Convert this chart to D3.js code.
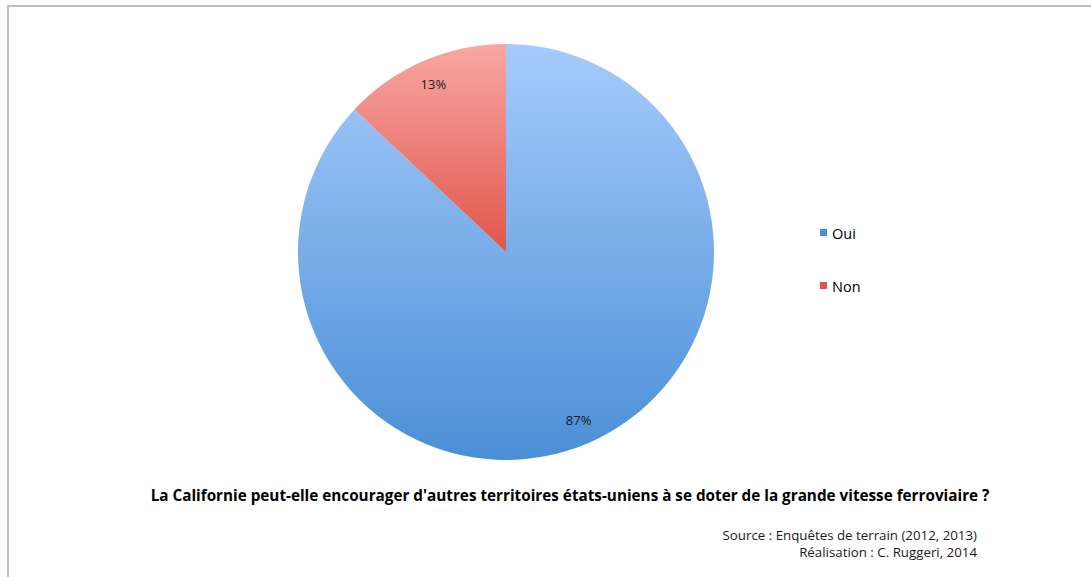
<!DOCTYPE html>
<html>
<head>
<meta charset="utf-8">
<script src="https://cdn.jsdelivr.net/npm/d3@7"></script>
<style>
  body { margin: 0; background: #fff; }
  svg { display: block; font-family: "Open Sans", sans-serif; }
</style>
</head>
<body>
<div id="chart"></div>
<script>
// data
var categories = ["Oui", "Non"];
var values = [87, 13];
var gradTop = ["#a6cbfb", "#f9a7a3"];
var gradBottom = ["#4a8fd7", "#e0564b"];

var title = "La Californie peut-elle encourager d'autres territoires états-uniens à se doter de la grande vitesse ferroviaire ?";
var sourceLines = ["Source : Enquêtes de terrain (2012, 2013)", "Réalisation : C. Ruggeri, 2014"];

var width = 1091, height = 577;
var cx = 506, cy = 252, radius = 208;

var svg = d3.select("#chart").append("svg")
  .attr("width", width)
  .attr("height", height);

// frame
svg.append("path")
  .attr("d", "M8,577 V6 H1091")
  .attr("fill", "none")
  .attr("stroke", "#bdbdbd")
  .attr("stroke-width", 2);

var defs = svg.append("defs");
categories.forEach(function(c, i){
  var g = defs.append("linearGradient")
    .attr("id", "grad" + i)
    .attr("x1", 0).attr("y1", 0).attr("x2", 0).attr("y2", 1);
  g.append("stop").attr("offset", "0%").attr("stop-color", gradTop[i]);
  g.append("stop").attr("offset", "100%").attr("stop-color", gradBottom[i]);
});

var pie = d3.pie().sort(null).value(function(d){ return d; });
var arc = d3.arc().innerRadius(0).outerRadius(radius);
var labelArc = d3.arc().innerRadius(183).outerRadius(183);

var g = svg.append("g")
  .attr("transform", "translate(" + cx + "," + cy + ")");

var arcs = pie(values);

g.selectAll(".slice")
  .data(arcs)
.enter().append("path")
  .attr("class", "slice")
  .attr("d", arc)
  .attr("fill", function(d, i){ return "url(#grad" + i + ")"; });

g.selectAll(".label")
  .data(arcs)
.enter().append("text")
  .attr("class", "label")
  .attr("transform", function(d){ return "translate(" + labelArc.centroid(d) + ")"; })
  .attr("text-anchor", "middle")
  .attr("dy", "0.35em")
  .style("font-size", "13px")
  .style("fill", "#1a1a1a")
  .text(function(d){ return d.data + "%"; });

// legend
var legend = svg.selectAll(".legend")
  .data(categories)
.enter().append("g")
  .attr("class", "legend")
  .attr("transform", function(d, i){ return "translate(820," + (234 + i * 53) + ")"; });

legend.append("rect")
  .attr("x", 0).attr("y", -5)
  .attr("width", 7).attr("height", 7)
  .attr("fill", function(d, i){ return gradBottom[i]; });

legend.append("text")
  .attr("x", 12)
  .attr("dy", "0.35em")
  .style("font-size", "14.5px")
  .style("fill", "#000")
  .text(function(d){ return d; });

// title, sized so it spans the same width as the original
var titleText = svg.append("text")
  .attr("x", 570)
  .attr("y", 501)
  .attr("text-anchor", "middle")
  .style("font-size", "15px")
  .style("font-weight", "bold")
  .style("fill", "#000")
  .text(title);
var tw = titleText.node().getComputedTextLength();
titleText.style("font-size", (15 * 840 / tw) + "px");

svg.selectAll(".source")
  .data(sourceLines)
.enter().append("text")
  .attr("class", "source")
  .attr("x", 977)
  .attr("y", function(d, i){ return 540 + i * 17; })
  .attr("text-anchor", "end")
  .style("font-size", "13.3px")
  .style("fill", "#1a1a1a")
  .text(function(d){ return d; });
</script>
</body>
</html>
